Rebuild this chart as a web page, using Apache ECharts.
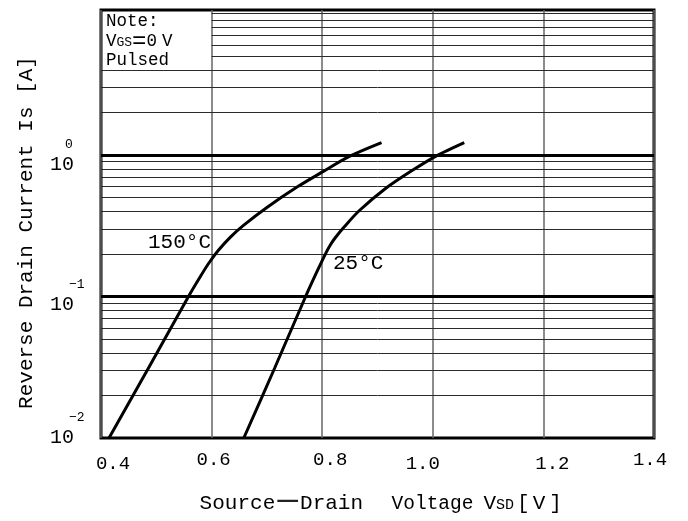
<!DOCTYPE html>
<html><head><meta charset="utf-8">
<script src="https://cdn.jsdelivr.net/npm/echarts@6/dist/echarts.min.js"></script>
<style>html,body{margin:0;padding:0;background:#fff}#c{width:688px;height:521px}</style>
</head><body><div id="c"></div>
<script>
// ---- data ----
const xTickValues = [0.4, 0.6, 0.8, 1.0, 1.2, 1.4];
const xTickLabels = ['0.4', '0.6', '0.8', '1.0', '1.2', '1.4'];
const yTickValues = [0.01, 0.1, 1];
const yTickExponents = ['\u22122', '\u22121', '0'];
const yMin = 0.01, yMax = 10.6;
const decadeValues = [0.01, 0.1, 1];
const minorMultipliers = [2, 3, 4, 5, 6, 7, 8, 9];
const noteBoxBottom = 4;       // I-value of the note box bottom edge
const noteBoxRight = 0.6;      // V-value of the note box right edge
const v150 = [0.4145, 0.4864, 0.5582, 0.5764, 0.5945, 0.6127, 0.6345, 0.6582, 0.700, 0.7545, 0.8036, 0.8491, 0.9073];
const i150 = [0.0100, 0.0315, 0.1000, 0.1319, 0.1711, 0.2131, 0.2642, 0.3196, 0.4263, 0.5940, 0.7730, 0.9790, 1.2256];
const v25 = [0.6582, 0.7145, 0.7700, 0.7909, 0.8073, 0.8155, 0.8236, 0.8400, 0.8673, 0.9145, 0.9618, 1.0091, 1.0569];
const i25 = [0.0100, 0.0315, 0.1000, 0.1510, 0.2053, 0.2342, 0.2603, 0.3113, 0.4055, 0.5807, 0.7745, 1.0000, 1.2256];
const seriesNames = ['150\u00b0C', '25\u00b0C'];

// ---- styles ----
const FONT = '"Liberation Mono", "Courier New", monospace';
const xLabelShift = [12, 2, 8, -10, 9, -4];
const xLabelDrop = [4, 0, 0, 4, 4, 0];
const ySupPad = [19, 19, 15];
const yBaseLH = [40, 23, 20];

const xRich = {};
xTickLabels.forEach((t, k) => {
  const d = xLabelShift[k];
  xRich['x' + k] = { fontFamily: FONT, fontSize: 19, color: '#000',
    padding: [xLabelDrop[k], d < 0 ? -2 * d : 0, 0, d > 0 ? 2 * d : 0] };
});
const yRich = {};
yTickValues.forEach((t, k) => {
  yRich['s' + k] = { fontFamily: FONT, fontSize: 13, color: '#000', lineHeight: 20, padding: [0, 0, 0, ySupPad[k]] };
  yRich['b' + k] = { fontFamily: FONT, fontSize: 20, color: '#000', lineHeight: yBaseLH[k], verticalAlign: 'top' };
});

// grid lines (markLine data)
const gridLines = [];
decadeValues.forEach(d => {
  minorMultipliers.forEach(m => {
    const v = d * m;
    if (d === 1 && m > noteBoxBottom) {
      gridLines.push([{ coord: [noteBoxRight, v] }, { coord: [1.4, v] }]);
    } else {
      gridLines.push({ yAxis: v });
    }
  });
});
gridLines.push([{ coord: [noteBoxRight, 10] }, { coord: [1.4, 10] }]);
const decadeLines = decadeValues.filter(v => v > yMin).map(v => ({ yAxis: v }));

const T = { fontFamily: FONT, fontSize: 21, color: '#000', lineHeight: 21 };
const P = (pl, fs) => Object.assign({}, T, { padding: [0, 0, 0, pl] }, fs ? { fontSize: fs } : {});
const chart = echarts.init(document.getElementById('c'), null, { renderer: 'canvas' });
chart.setOption({
  animation: false,
  backgroundColor: '#fff',
  grid: { left: 101, right: 34, top: 10, bottom: 83, show: true, borderColor: '#000', borderWidth: 3,
          backgroundColor: 'transparent', outerBoundsMode: 'none', containLabel: false },
  xAxis: {
    type: 'value', min: 0.4, max: 1.4, interval: 0.2,
    axisLine: { show: false }, axisTick: { show: false },
    splitLine: { show: true, lineStyle: { color: '#666', width: 1.5 } },
    axisLabel: { margin: 12, color: '#000', fontFamily: FONT, fontSize: 19,
      formatter: v => { const k = Math.round((v - 0.4) / 0.2); return xTickLabels[k] !== undefined ? '{x' + k + '|' + xTickLabels[k] + '}' : ''; },
      rich: xRich },
    name: '{a0|Source}{m|\u2014}{a|Drain}{v|Voltage}{vv|V}{s|SD}{l|[}{lv|V}{r|]}',
    nameLocation: 'middle', nameGap: 55,
    nameTextStyle: { fontFamily: FONT, fontSize: 21, color: '#000', lineHeight: 21,
      rich: {
        a0: P(6.5), a: T,
        m: { fontFamily: FONT, fontSize: 34, color: '#222', lineHeight: 21, padding: [0, 2.2, 8, 2.2] },
        v: P(28.5, 19.5), vv: P(10),
        s: { fontFamily: FONT, fontSize: 15, color: '#000', lineHeight: 21, padding: [4, 0, 0, 0] },
        l: P(3), lv: P(3), r: P(4)
      } }
  },
  yAxis: {
    type: 'log', logBase: 10, min: yMin, max: yMax,
    axisLine: { show: false }, axisTick: { show: false }, splitLine: { show: false },
    axisLabel: { align: 'left', margin: 51, color: '#000', fontFamily: FONT, fontSize: 20,
      formatter: v => {
        const lg = Math.log10(v); const e = Math.round(lg);
        if (Math.abs(lg - e) > 1e-6) return '';
        const k = yTickValues.findIndex(t => Math.round(Math.log10(t)) === e);
        if (k < 0) return '';
        return '{s' + k + '|' + yTickExponents[k] + '}\n{b' + k + '|10}';
      },
      rich: yRich },
    name: 'Reverse Drain Current Is [A]', nameLocation: 'middle', nameRotate: 90, nameGap: 64,
    nameTextStyle: { fontFamily: FONT, fontSize: 21, color: '#000', padding: [0, 17, 0, 0] }
  },
  series: [
    { type: 'line', name: 'grid', data: [], silent: true, z: 1,
      markLine: { silent: true, symbol: ['none', 'none'], label: { show: false }, animation: false,
        lineStyle: { color: '#2a2a2a', width: 1, type: 'solid' }, emphasis: { disabled: true },
        data: gridLines } },
    { type: 'line', name: 'decades', data: [], silent: true, z: 2,
      markLine: { silent: true, symbol: ['none', 'none'], label: { show: false }, animation: false,
        lineStyle: { color: '#000', width: 3, type: 'solid' }, emphasis: { disabled: true },
        data: decadeLines } },
    { type: 'line', name: seriesNames[0], data: v150.map((v, i) => [v, i150[i]]), showSymbol: false,
      smooth: 0.3, lineStyle: { color: '#000', width: 3 }, z: 5, silent: true },
    { type: 'line', name: seriesNames[1], data: v25.map((v, i) => [v, i25[i]]), showSymbol: false,
      smooth: 0.3, lineStyle: { color: '#000', width: 3 }, z: 5, silent: true }
  ],
  graphic: [
    { type: 'text', left: 106, top: 12, z: 10, style: {
        text: 'Note:\nV{s|GS}{e|=}0{v|V}\nPulsed', font: '17.5px ' + FONT, fill: '#000', lineHeight: 19.5,
        rich: {
          s: { fontFamily: FONT, fontSize: 13, fill: '#000', lineHeight: 19.5, padding: [3, 0, 0, 0] },
          e: { fontFamily: FONT, fontSize: 24, fill: '#000', lineHeight: 19.5 },
          v: { fontFamily: FONT, fontSize: 17.5, fill: '#000', lineHeight: 19.5, padding: [0, 0, 0, 5] }
        } } },
    { type: 'text', left: 148, top: 231.5, z: 10, style: { text: seriesNames[0], font: '21px ' + FONT, fill: '#000' } },
    { type: 'text', left: 333, top: 253, z: 10, style: { text: seriesNames[1], font: '21px ' + FONT, fill: '#000' } }
  ]
});
</script></body></html>
